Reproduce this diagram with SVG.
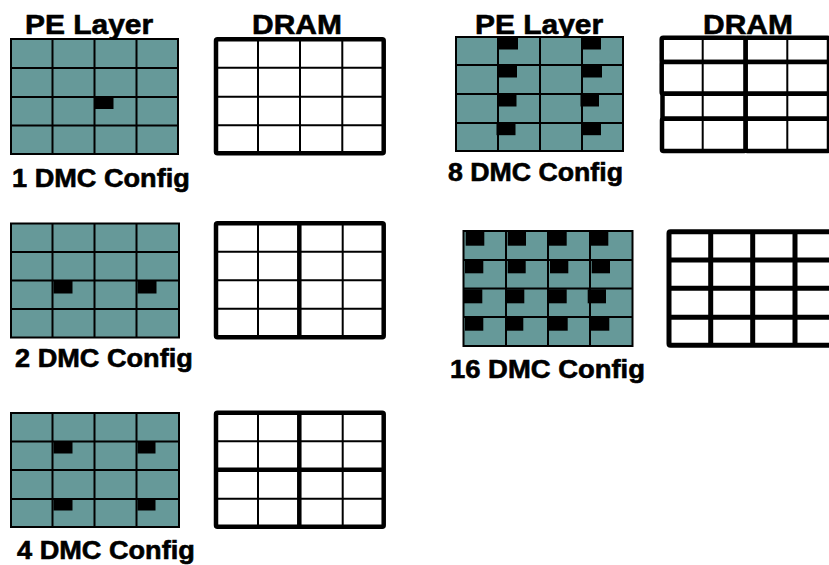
<svg xmlns="http://www.w3.org/2000/svg" width="829" height="565" viewBox="0 0 829 565">
  <style>
    .lbl { font-family: "Liberation Sans", Arial, sans-serif; font-weight: bold; fill: #000; stroke: #000; stroke-width: 0.6; }
    .hdr { font-size: 28px; }
    .cfg { font-size: 25px; }
    .pe { fill: #669999; stroke: #000; stroke-width: 2; }
    .peline { fill: none; stroke: #000; stroke-width: 2; }
    .blk { fill: #000; }
    .dram { fill: #fff; stroke: #000; stroke-width: 4.5; }
    .thin { fill: none; stroke: #000; stroke-width: 2; }
    .thick { fill: none; stroke: #000; stroke-width: 4.5; }
  </style>
  <rect width="829" height="565" fill="#fff"/>

  <!-- column headers (Arial-like bold, stretched horizontally) -->
  <g id="headers">
    <text class="lbl hdr" transform="translate(25 33.5) scale(1.07 1)">PE Layer</text>
    <text class="lbl hdr" transform="translate(252 33.5) scale(1.07 1)">DRAM</text>
    <text class="lbl hdr" transform="translate(475 33.5) scale(1.07 1)">PE Layer</text>
    <text class="lbl hdr" transform="translate(703 33.5) scale(1.07 1)">DRAM</text>
  </g>

  <!-- 1 DMC -->
  <g id="pe-1dmc">
    <rect class="pe" x="11" y="39" width="167" height="115"/>
    <path class="peline" d="M52.5 39V154M94.5 39V154M136.5 39V154M11 68H178M11 97H178M11 125.5H178"/>
    <rect class="blk" x="94.5" y="97" width="19" height="12"/>
  </g>
  <g id="dram-1dmc">
    <rect class="dram" x="216" y="39.3" width="167.7" height="114" rx="1.5"/>
    <path class="thin" d="M258 39V153M300 39V153M342.3 39V153M216 67.7H384M216 96.7H384M216 125.3H384"/>
  </g>
  <text id="label-1dmc" class="lbl cfg" transform="translate(12 186.5) scale(1.086 1)">1 DMC Config</text>

  <!-- 2 DMC -->
  <g id="pe-2dmc">
    <rect class="pe" x="11" y="223.5" width="168" height="114"/>
    <path class="peline" d="M52.5 223.5V337.5M94.5 223.5V337.5M136.5 223.5V337.5M11 252H179M11 280.5H179M11 309H179"/>
    <rect class="blk" x="53.5" y="281" width="19" height="12.5"/>
    <rect class="blk" x="137.5" y="281" width="19" height="12.5"/>
  </g>
  <g id="dram-2dmc">
    <rect class="dram" x="216" y="223.3" width="167.7" height="114" rx="1.5"/>
    <path class="thin" d="M258 223V337M342.7 223V337M216 251.7H384M216 280.3H384M216 308.7H384"/>
    <path class="thick" d="M299.3 223V337"/>
  </g>
  <text id="label-2dmc" class="lbl cfg" transform="translate(15 366.5) scale(1.086 1)">2 DMC Config</text>

  <!-- 4 DMC -->
  <g id="pe-4dmc">
    <rect class="pe" x="11" y="413" width="168" height="114"/>
    <path class="peline" d="M52.5 413V527M94.5 413V527M136.5 413V527M11 441.5H179M11 470H179M11 499H179"/>
    <rect class="blk" x="53.5" y="442" width="19" height="11.5"/>
    <rect class="blk" x="137.5" y="442" width="18" height="11.5"/>
    <rect class="blk" x="53.5" y="499" width="19" height="11.5"/>
    <rect class="blk" x="137.5" y="499" width="18" height="11.5"/>
  </g>
  <g id="dram-4dmc">
    <rect class="dram" x="216" y="412.7" width="167.7" height="114" rx="1.5"/>
    <path class="thin" d="M258 413V527M342.7 413V527M216 441.3H384M216 498.7H384"/>
    <path class="thick" d="M299.3 413V527M216 469.7H384"/>
  </g>
  <text id="label-4dmc" class="lbl cfg" transform="translate(17 558.5) scale(1.086 1)">4 DMC Config</text>

  <!-- 8 DMC -->
  <g id="pe-8dmc">
    <rect class="pe" x="456" y="37" width="167" height="114"/>
    <path class="peline" d="M498 37V151M540 37V151M582 37V151M456 65H623M456 94H623M456 123H623"/>
    <rect class="blk" x="499" y="37" width="19" height="12.5"/>
    <rect class="blk" x="499" y="65" width="18" height="12.5"/>
    <rect class="blk" x="497.5" y="94" width="19" height="12.5"/>
    <rect class="blk" x="496.5" y="122.7" width="19" height="12.5"/>
    <rect class="blk" x="582" y="37" width="19" height="12.5"/>
    <rect class="blk" x="583" y="65" width="19" height="12.5"/>
    <rect class="blk" x="580.5" y="94" width="18.5" height="12.5"/>
    <rect class="blk" x="582.5" y="122.7" width="18.5" height="12.5"/>
  </g>
  <g id="dram-8dmc">
    <rect class="dram" x="661.7" y="37.7" width="84" height="24.3" rx="1.5"/>
    <rect class="dram" x="661.7" y="62" width="84" height="31.7" rx="1.5"/>
    <rect class="dram" x="662.5" y="93.7" width="83.2" height="25" rx="1.5"/>
    <rect class="dram" x="662" y="118.7" width="83.7" height="32.3" rx="1.5"/>
    <rect class="dram" x="745.7" y="37.7" width="83.3" height="24.3" rx="1.5"/>
    <rect class="dram" x="745.7" y="62" width="83.3" height="31.7" rx="1.5"/>
    <rect class="dram" x="745.7" y="93.7" width="83.3" height="25" rx="1.5"/>
    <rect class="dram" x="745.7" y="118.7" width="83.3" height="32.3" rx="1.5"/>
    <path class="thin" d="M702.7 38V151M787.3 38V151"/>
  </g>
  <text id="label-8dmc" class="lbl cfg" transform="translate(448 180.5) scale(1.068 1)">8 DMC Config</text>

  <!-- 16 DMC -->
  <g id="pe-16dmc">
    <rect class="pe" x="463.5" y="231" width="169" height="115"/>
    <path class="peline" d="M506 231V346M548 231V346M590 231V346M463.5 260H632.5M463.5 288.5H632.5M463.5 317H632.5"/>
    <rect class="blk" x="465.7" y="231.7" width="18.6" height="14"/>
    <rect class="blk" x="507.7" y="231.7" width="18.3" height="14"/>
    <rect class="blk" x="549" y="231.7" width="17.7" height="14"/>
    <rect class="blk" x="591" y="231.7" width="17.3" height="14"/>
    <rect class="blk" x="465" y="260.7" width="18.3" height="12.6"/>
    <rect class="blk" x="507.7" y="260.7" width="18" height="12.6"/>
    <rect class="blk" x="550" y="260.7" width="18.3" height="12.6"/>
    <rect class="blk" x="591.7" y="260.7" width="18.3" height="12.6"/>
    <rect class="blk" x="463.3" y="289.3" width="19" height="14"/>
    <rect class="blk" x="506" y="289.3" width="18.3" height="14"/>
    <rect class="blk" x="549" y="289.3" width="17.7" height="14"/>
    <rect class="blk" x="587.7" y="289.3" width="18.3" height="14"/>
    <rect class="blk" x="465" y="317.3" width="18.3" height="13.4"/>
    <rect class="blk" x="505" y="317.3" width="18.3" height="13.4"/>
    <rect class="blk" x="549" y="317.3" width="18.7" height="13.4"/>
    <rect class="blk" x="591" y="317.3" width="18.3" height="13.4"/>
  </g>
  <g id="dram-16dmc">
    <rect class="dram" x="669" y="231.7" width="168" height="113.6" rx="1.5" style="stroke-width:5"/>
    <path class="thick" style="stroke-width:5" d="M710.7 231V346M752.7 231V346M795 231V346M669 260H837M669 288.3H837M669 317.3H837"/>
  </g>
  <text id="label-16dmc" class="lbl cfg" transform="translate(450 378) scale(1.097 1)">16 DMC Config</text>
</svg>
